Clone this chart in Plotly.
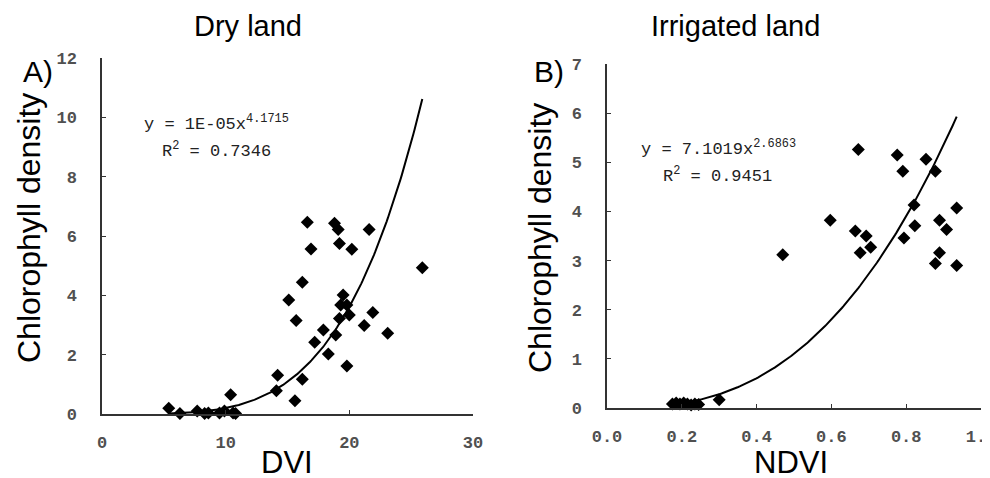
import plotly.graph_objects as go
import numpy as np

# ---- Data: Dry land (A) ----
dvi = [5.4, 6.3, 7.7, 8.3, 8.6, 9.5, 9.9, 10.4, 10.6, 10.8,
       14.1, 14.2, 15.6, 16.2, 15.1, 15.7, 16.2, 16.6, 16.9, 17.2,
       17.9, 18.3, 18.8, 19.1, 19.2, 20.2, 21.6, 18.9, 19.5, 19.3,
       19.8, 19.2, 20.0, 19.8, 21.2, 21.9, 23.1, 25.9]
chl_dry = [0.19, 0.02, 0.10, 0.02, 0.03, 0.03, 0.10, 0.65, 0.03, 0.02,
           0.78, 1.31, 0.45, 1.17, 3.84, 3.15, 4.44, 6.46, 5.56, 2.42,
           2.83, 2.02, 6.43, 6.22, 5.75, 5.55, 6.22, 2.66, 4.01, 3.67,
           3.67, 3.22, 3.34, 1.62, 2.98, 3.42, 2.72, 4.93]
# power-law trend y = a * x^b
dry_a, dry_b = 1.35e-5, 4.1715
dry_fit_range = [5.4, 25.9]

# ---- Data: Irrigated land (B) ----
ndvi = [0.175, 0.185, 0.195, 0.205, 0.215, 0.225, 0.235, 0.245, 0.30,
        0.47, 0.597, 0.664, 0.672, 0.677, 0.693, 0.705, 0.776, 0.791,
        0.794, 0.821, 0.823, 0.853, 0.878, 0.889, 0.908, 0.889, 0.878,
        0.935, 0.935]
chl_irr = [0.08, 0.10, 0.08, 0.10, 0.08, 0.06, 0.08, 0.07, 0.17,
           3.12, 3.82, 3.60, 5.26, 3.16, 3.50, 3.27, 5.15, 4.82,
           3.46, 4.13, 3.71, 5.06, 4.82, 3.82, 3.63, 3.16, 2.94,
           4.07, 2.90]
irr_a, irr_b = 7.1019, 2.6863
irr_fit_range = [0.19, 0.935]

# ---- Axis ticks ----
dry_xticks = [0, 10, 20, 30]
dry_yticks = [0, 2, 4, 6, 8, 10, 12]
irr_xticks = [0.0, 0.2, 0.4, 0.6, 0.8, 1.0]
irr_xticklabels = ["0.0", "0.2", "0.4", "0.6", "0.8", "1.0"]
irr_yticks = [0, 1, 2, 3, 4, 5, 6, 7]

# ---- Text ----
titles = ["Dry land", "Irrigated land"]
panel_labels = ["A)", "B)"]
xtitles = ["DVI", "NDVI"]
ytitle = "Chlorophyll density"
eq_dry = ["y = 1E-05x<sup>4.1715</sup>", "R<sup>2</sup> = 0.7346"]
eq_irr = ["y = 7.1019x<sup>2.6863</sup>", "R<sup>2</sup> = 0.9451"]

# page body has an 8px margin: figure sized to fit inside the window
OFF = 8
W, H = 990 - OFF, 478 - OFF
def px(x):
    return (x - OFF) / W
def py(y):
    return 1 - (y - OFF) / H

fig = go.Figure()

marker = dict(symbol="diamond", size=10, color="black")
fig.add_trace(go.Scatter(x=dvi, y=chl_dry, mode="markers", marker=marker,
                         xaxis="x", yaxis="y", showlegend=False, cliponaxis=False))
xs = np.linspace(dry_fit_range[0], dry_fit_range[1], 200)
fig.add_trace(go.Scatter(x=xs, y=dry_a * xs ** dry_b, mode="lines",
                         line=dict(color="black", width=2),
                         xaxis="x", yaxis="y", showlegend=False))

fig.add_trace(go.Scatter(x=ndvi, y=chl_irr, mode="markers", marker=marker,
                         xaxis="x2", yaxis="y2", showlegend=False, cliponaxis=False))
xs2 = np.linspace(irr_fit_range[0], irr_fit_range[1], 200)
fig.add_trace(go.Scatter(x=xs2, y=irr_a * xs2 ** irr_b, mode="lines",
                         line=dict(color="black", width=2),
                         xaxis="x2", yaxis="y2", showlegend=False))

tickfont = dict(family="Liberation Mono", size=17, color="#505050", weight="bold")
axis_common = dict(showline=True, linecolor="#333333", linewidth=1.5,
                   ticks="inside", ticklen=4, tickcolor="#333333",
                   showgrid=False, zeroline=False, tickfont=tickfont,
                   ticklabeloverflow="allow")

fig.update_layout(
    width=W, height=H,
    margin=dict(l=0, r=0, t=0, b=0, autoexpand=False),
    paper_bgcolor="white", plot_bgcolor="white",
    xaxis=dict(domain=[px(102), px(473)], range=[0, 30], tickvals=dry_xticks,
               anchor="y", ticklabelstandoff=12, **axis_common),
    yaxis=dict(domain=[py(414), py(58)], range=[0, 12], tickvals=dry_yticks,
               anchor="x", ticklabelstandoff=20, **axis_common),
    xaxis2=dict(domain=[px(607), px(981)], range=[0, 1], tickvals=irr_xticks,
                ticktext=irr_xticklabels, anchor="y2", ticklabelstandoff=12,
                **axis_common),
    yaxis2=dict(domain=[py(408), py(64)], range=[0, 7], tickvals=irr_yticks,
                anchor="x2", ticklabelstandoff=20, **axis_common),
)

sans = "Liberation Sans"
ann = []
def add_text(text, x, y, size, family=sans, color="black", angle=0, xanchor="center"):
    ann.append(dict(text=text, x=px(x), y=py(y), xref="paper", yref="paper",
                    showarrow=False, xanchor=xanchor, yanchor="middle",
                    textangle=angle, font=dict(family=family, size=size, color=color)))

add_text(titles[0], 248, 26, 29)
add_text(titles[1], 735, 26, 29)
add_text(panel_labels[0], 38, 72, 30)
add_text(panel_labels[1], 549, 72, 30)
add_text(ytitle, 29, 228, 32, angle=-90)
add_text(ytitle, 540, 238, 32, angle=-90)
add_text(xtitles[0], 287, 462, 31)
add_text(xtitles[1], 791, 462, 31)

mono = "Liberation Mono"
add_text(eq_dry[0], 142, 123, 17, family=mono, color="#222222", xanchor="left")
add_text(eq_dry[1], 160, 150, 17, family=mono, color="#222222", xanchor="left")
add_text(eq_irr[0], 639, 148, 17, family=mono, color="#222222", xanchor="left")
add_text(eq_irr[1], 661, 175, 17, family=mono, color="#222222", xanchor="left")

fig.update_layout(annotations=ann)
fig.write_html("out.html")
